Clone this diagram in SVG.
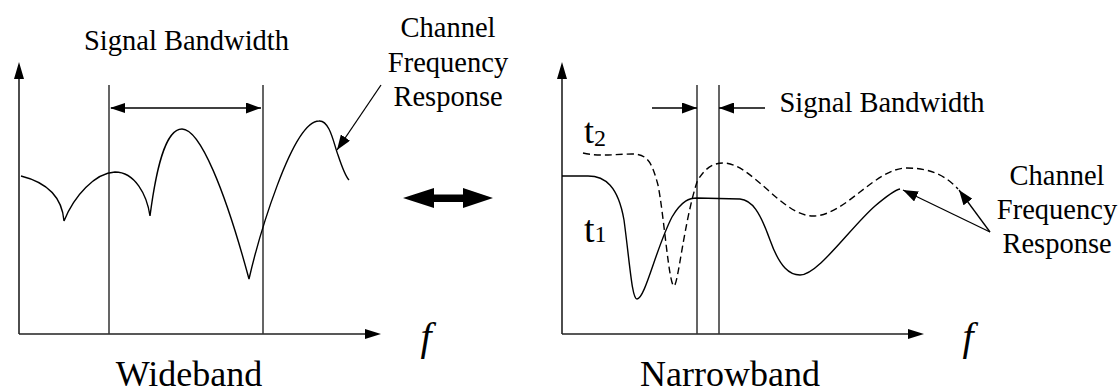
<svg xmlns="http://www.w3.org/2000/svg" width="1120" height="392" viewBox="0 0 1120 392">
<style>
text{font-family:"Liberation Serif","Times New Roman",serif}
.lbl{font-size:28.5px;text-anchor:middle}
.big{font-size:36px;text-anchor:middle}
.fx{font-size:40px;font-style:italic;text-anchor:middle}
.ax{stroke:#222;stroke-width:1.6;fill:none}
.vl{stroke:#333;stroke-width:1.5;fill:none}
.cv{stroke:#000;stroke-width:1.4;fill:none}
.dash{stroke-dasharray:7 4}
.ar{stroke:#000;stroke-width:1.3;fill:none;marker-end:url(#ah)}
</style>
<defs>
<marker id="ah" markerUnits="userSpaceOnUse" markerWidth="16" markerHeight="11" refX="15" refY="5.5" orient="auto"><path d="M0,0 L15,5.5 L0,11 z" fill="#000"/></marker>
</defs>
<g id="wideband-plot">
<path class="ax" d="M19,334 V70 M19,334 H373"/>
<path d="M19,62 L14,79 L24,79 z M381,334 L365,329 L365,339 z" fill="#000"/>
<path class="vl" d="M109,85 V334 M263,85 V334"/>
<path class="cv" d="M21,176 C45,182 62,195 64,221 C74,196 95,173 115,172 C135,172 147,195 150,216 C156,170 165,129 182,129 C200,129 225,190 249,279 C258,240 292,121 319,121 C330,120 334,145 338,155 C342,167 345,176 349,180"/>
</g>
<g id="narrowband-plot">
<path class="ax" d="M562,334 V70 M562,334 H916"/>
<path d="M562,62 L557,79 L567,79 z M924,334 L908,329 L908,339 z" fill="#000"/>
<path class="vl" d="M697,85 V334 M719,85 V334"/>
<path class="cv" d="M562,176 L588,176 C605,176 618,186 624,220 C630,265 632,299 637,299 C645,299 656,248 672,217 C682,200 690,198 697,198 L740,199 C752,200 760,212 770,240 C780,268 790,275 800,275 C818,275 850,228 875,206 C888,195 895,190 900,189"/>
<path class="cv dash" d="M583,153 C600,157 615,154 632,154 C648,154 652,163 658,185 C664,215 669,286 674,286 C678,286 684,222 697,182 C703,170 712,163 723,163 C752,163 782,216 813,216 C845,216 875,168 907,168 C933,168 948,178 958,189"/>
</g>
<g id="connectors">
<path class="ar" d="M111,108 H261"/>
<path d="M110,108 L125,103 L125,113 z" fill="#000"/>
<path class="ar" d="M381,85 L337,150"/>
<path class="ar" d="M652,108 H697"/>
<path class="ar" d="M765,108 H719"/>
<path class="ar" d="M990,232 L903,190"/>
<path class="ar" d="M990,232 L959,190"/>
<polygon points="403,198 434,188 434,194.5 463,194.5 463,188 493,198 463,208 463,202 434,202 434,208" fill="#000"/>
</g>
<g id="labels" fill="#000">
<text class="lbl" x="186.5" y="50">Signal Bandwidth</text>
<text class="lbl" x="448" y="37">Channel</text>
<text class="lbl" x="448" y="72">Frequency</text>
<text class="lbl" x="448" y="106">Response</text>
<text class="lbl" x="882" y="112">Signal Bandwidth</text>
<text class="lbl" x="1057" y="185">Channel</text>
<text class="lbl" x="1057" y="219">Frequency</text>
<text class="lbl" x="1057" y="253">Response</text>
<text x="584" y="143" font-size="36">t<tspan font-size="24" dy="3">2</tspan></text>
<text x="584" y="242" font-size="38">t<tspan font-size="24">1</tspan></text>
<text class="fx" x="426" y="350">f</text>
<text class="fx" x="968" y="350">f</text>
<text class="big" x="189" y="386">Wideband</text>
<text class="big" x="730" y="386">Narrowband</text>
</g>
</svg>
